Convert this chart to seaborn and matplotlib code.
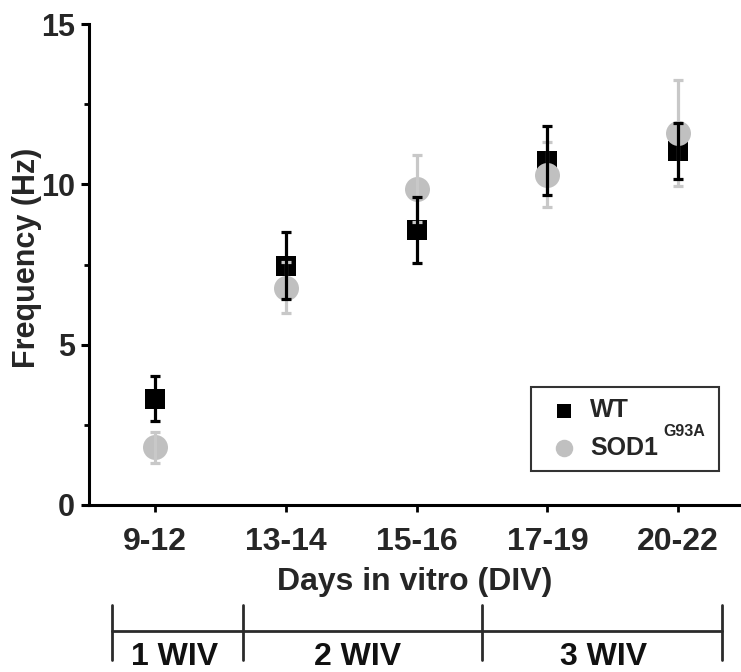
import matplotlib
matplotlib.use("Agg")
import matplotlib.pyplot as plt
from matplotlib.lines import Line2D
from matplotlib.ticker import MultipleLocator
import seaborn as sns
import pandas as pd

# Spontaneous firing frequency by culture age (mean ± SEM)
days = ["9-12", "13-14", "15-16", "17-19", "20-22"]
wt_mean = [3.32, 7.46, 8.58, 10.74, 11.05]
wt_sem = [0.71, 1.05, 1.03, 1.07, 0.87]
sod_mean = [1.80, 6.78, 9.86, 10.30, 11.60]
sod_sem = [0.49, 0.80, 1.04, 1.01, 1.64]

weeks = ["1 WIV", "2 WIV", "3 WIV"]

sns.set_theme(style="ticks")
plt.rcParams["font.family"] = ["Liberation Sans", "DejaVu Sans"]
plt.rcParams["font.weight"] = "bold"

W, H = 741, 672
fig = plt.figure(figsize=(W / 100, H / 100), dpi=100)
ax = fig.add_axes([89 / W, (H - 505) / H, (W - 89) / W, 481 / H])

df = pd.DataFrame({"days": days, "wt": wt_mean, "sod": sod_mean})

BLACK = "#000000"
GREY = "#c0c0c0"
GREY_BAR = "#c8c8c8"

sns.scatterplot(data=df, x="days", y="wt", marker="s", s=228, color=BLACK,
                linewidth=0, label="WT", ax=ax, zorder=2)
sns.scatterplot(data=df, x="days", y="sod", marker="o", s=324, color=GREY,
                linewidth=0, label="SOD1", ax=ax, zorder=2)

ax.errorbar(df["days"], df["sod"], yerr=sod_sem, fmt="none", ecolor=GREY_BAR,
            elinewidth=2.3, capsize=3.3, capthick=2.3, zorder=3)
ax.errorbar(df["days"], df["wt"], yerr=wt_sem, fmt="none", ecolor=BLACK,
            elinewidth=2.3, capsize=3.3, capthick=2.3, zorder=4)

ax.set_xlim(-0.505, 4.48)
ax.set_ylim(0, 15)
ax.yaxis.set_major_locator(MultipleLocator(5))
ax.yaxis.set_minor_locator(MultipleLocator(2.5))
sns.despine(ax=ax)
for side in ("left", "bottom"):
    ax.spines[side].set_linewidth(2.2)
    ax.spines[side].set_color(BLACK)

ax.tick_params(axis="y", which="major", length=5.8, width=2.2, pad=4.3,
               labelsize=22, color=BLACK)
ax.tick_params(axis="y", which="minor", length=3.6, width=2.0, color=BLACK)
ax.tick_params(axis="x", which="major", length=5, width=2.0, pad=11,
               labelsize=23, color=BLACK)
for lab in ax.get_xticklabels() + ax.get_yticklabels():
    lab.set_fontweight("bold")

ax.set_ylabel("Frequency (Hz)", fontsize=22, fontweight="bold")
ax.yaxis.set_label_coords(-0.072, 0.513)
ax.set_xlabel("Days in vitro (DIV)", fontsize=23, fontweight="bold")
ax.xaxis.set_label_coords(0.5, -0.128)

leg = ax.legend(loc="upper left",
                bbox_to_anchor=(531 / W, 1 - 472 / H, 188 / W, 85 / H),
                bbox_transform=fig.transFigure, mode="expand", borderaxespad=0,
                frameon=True, fancybox=False, framealpha=1, edgecolor="#333333",
                prop={"size": 18, "weight": "bold"}, markerscale=0.7,
                borderpad=0.45, handlelength=1.76, handletextpad=0.16,
                labelspacing=0.55)
leg.get_frame().set_linewidth(1.5)
fig.text(684 / W, 1 - 432 / H, "G93A", ha="center", va="center",
         fontsize=11.5, fontweight="bold")

# Culture-week timeline under the axis
ov = fig.add_axes([0, 0, 1, 1], facecolor="none")
ov.set_xlim(0, W)
ov.set_ylim(H, 0)
ov.axis("off")
TL = "#2b2b2b"
week_edges = [112, 243, 482, 722]
week_centres = [175, 358, 604]
ov.add_line(Line2D([week_edges[0], week_edges[-1]], [630.5, 630.5],
                   color=TL, lw=2.0))
for xe in week_edges:
    ov.add_line(Line2D([xe, xe], [605, 660], color=TL, lw=2.0))
for xc, w in zip(week_centres, weeks):
    ov.text(xc, 665, w, ha="center", va="baseline", fontsize=23,
            fontweight="bold", color="#111111")

fig.savefig("out.png", dpi=100)
